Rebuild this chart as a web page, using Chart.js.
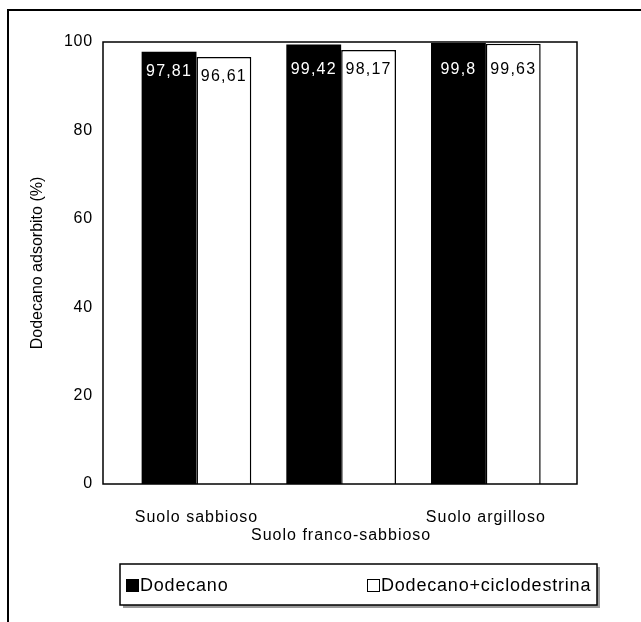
<!DOCTYPE html>
<html>
<head>
<meta charset="utf-8">
<script src="https://cdn.jsdelivr.net/npm/chart.js@4.4.1/dist/chart.umd.min.js"></script>
<style>
  html, body { margin: 0; padding: 0; background: #ffffff; }
  #wrap { width: 641px; height: 622px; position: relative; }
</style>
</head>
<body>
<div id="wrap"><canvas id="c" width="641" height="622"></canvas></div>
<script>
// ---- data ----
const categories = ['Suolo sabbioso', 'Suolo franco-sabbioso', 'Suolo argilloso'];
const seriesNames = ['Dodecano', 'Dodecano+ciclodestrina'];
const dodecano = [97.81, 99.42, 99.8];
const dodecanoCiclo = [96.61, 98.17, 99.63];
const yTicks = [0, 20, 40, 60, 80, 100];
const yTitle = 'Dodecano adsorbito (%)';

const FONT = "'Liberation Sans', Arial, Helvetica, sans-serif";

function fmt(v) { return String(v).replace('.', ','); }

function withSpacing(scale, method, spacing) {
  const orig = scale[method];
  scale[method] = function (...args) {
    const ctx = this.ctx;
    const prev = ctx.letterSpacing;
    ctx.letterSpacing = spacing;
    orig.apply(this, args);
    ctx.letterSpacing = prev || '0px';
  };
}

const framePlugin = {
  id: 'frame',
  afterLayout(chart) {
    const sx = chart.scales.x, sy = chart.scales.y;
    if (!sx._patched) { withSpacing(sx, 'drawLabels', '1px'); sx._patched = true; }
    if (!sy._patched) { withSpacing(sy, 'drawLabels', '0.8px'); sy._patched = true; }
  },
  beforeDraw(chart) {
    const ctx = chart.ctx;
    ctx.save();
    ctx.fillStyle = '#ffffff';
    ctx.fillRect(0, 0, chart.width, chart.height);
    // outer figure frame (top + left)
    ctx.strokeStyle = '#000';
    ctx.lineWidth = 2;
    ctx.beginPath();
    ctx.moveTo(641, 10);
    ctx.lineTo(8, 10);
    ctx.lineTo(8, 622);
    ctx.stroke();
    ctx.restore();
  },
  afterDatasetsDraw(chart) {
    const ctx = chart.ctx;
    const a = chart.chartArea;
    ctx.save();
    // plot area border
    ctx.strokeStyle = '#000';
    ctx.lineWidth = 1.5;
    ctx.strokeRect(a.left, a.top, a.right - a.left, a.bottom - a.top);
    // value labels inside bar tops
    ctx.font = '16px ' + FONT;
    ctx.letterSpacing = '1.2px';
    ctx.textAlign = 'center';
    ctx.textBaseline = 'middle';
    chart.data.datasets.forEach((ds, di) => {
      const meta = chart.getDatasetMeta(di);
      meta.data.forEach((bar, i) => {
        const v = ds.data[i].y;
        const y = Math.max(bar.y + 20, a.top + 28);
        ctx.fillStyle = ds.labelColor;
        ctx.fillText(fmt(v), bar.x, y);
      });
    });
    ctx.restore();
  },
  afterDraw(chart) {
    // legend box
    const ctx = chart.ctx;
    ctx.save();
    const L = 120, T = 564, R = 597, B = 605;
    ctx.fillStyle = '#9a9a9a';
    ctx.fillRect(L + 3, B, R - L, 3);
    ctx.fillRect(R, T + 3, 3, B - T);
    ctx.fillStyle = '#fff';
    ctx.fillRect(L, T, R - L, B - T);
    ctx.strokeStyle = '#000';
    ctx.lineWidth = 1.5;
    ctx.strokeRect(L, T, R - L, B - T);
    const items = [
      { x: 126, ds: chart.data.datasets[0] },
      { x: 367, ds: chart.data.datasets[1] }
    ];
    ctx.font = '18px ' + FONT;
    ctx.letterSpacing = '0.8px';
    ctx.textBaseline = 'middle';
    ctx.textAlign = 'left';
    items.forEach(it => {
      ctx.fillStyle = it.ds.backgroundColor;
      ctx.fillRect(it.x, 579, 12, 12);
      ctx.strokeStyle = '#000';
      ctx.lineWidth = 1;
      ctx.strokeRect(it.x + 0.5, 579.5, 12, 12);
      ctx.fillStyle = '#000';
      ctx.fillText(it.ds.label, it.x + 14, 586);
    });
    ctx.restore();
  }
};

const ctx = document.getElementById('c').getContext('2d');
new Chart(ctx, {
  type: 'bar',
  data: {
    datasets: [
      {
        label: seriesNames[0],
        data: dodecano.map((v, i) => ({ x: i + 1, y: v })),
        backgroundColor: '#000000',
        borderColor: '#000000',
        borderWidth: 0,
        labelColor: '#ffffff'
      },
      {
        label: seriesNames[1],
        data: dodecanoCiclo.map((v, i) => ({ x: i + 1, y: v })),
        backgroundColor: '#ffffff',
        borderColor: '#000000',
        borderWidth: 1.5,
        labelColor: '#000000'
      }
    ]
  },
  options: {
    responsive: false,
    animation: false,
    events: [],
    devicePixelRatio: 1,
    categoryPercentage: 0.758,
    barPercentage: 1,
    layout: { padding: { left: 0, top: 42, right: 64, bottom: 78 } },
    plugins: { legend: { display: false }, tooltip: { enabled: false } },
    scales: {
      x: {
        type: 'linear',
        min: 0.354,
        max: 3.63,
        offset: false,
        grid: { display: false, drawTicks: false },
        border: { display: false },
        afterBuildTicks: (s) => { s.ticks = categories.map((c, i) => ({ value: i + 1 })); },
        afterFit: (s) => { s.height = 60; },
        ticks: {
          autoSkip: false,
          maxRotation: 0,
          padding: 25,
          color: '#000',
          font: { family: FONT, size: 16, lineHeight: '18px' },
          callback: (v) => {
            const i = Math.round(v) - 1;
            return i % 2 === 1 ? ['', categories[i]] : categories[i];
          }
        }
      },
      y: {
        min: 0,
        max: 100,
        grid: { display: false, drawTicks: false },
        border: { display: false },
        afterBuildTicks: (s) => { s.ticks = yTicks.map(v => ({ value: v })); },
        afterFit: (s) => { s.width = 103; },
        ticks: {
          padding: 10,
          color: '#000',
          font: { family: FONT, size: 16 }
        },
        title: {
          display: true,
          text: yTitle,
          color: '#000',
          padding: { top: 28, bottom: 0 },
          font: { family: FONT, size: 16, lineHeight: 1.2 }
        }
      }
    }
  },
  plugins: [framePlugin]
});
</script>
</body>
</html>
